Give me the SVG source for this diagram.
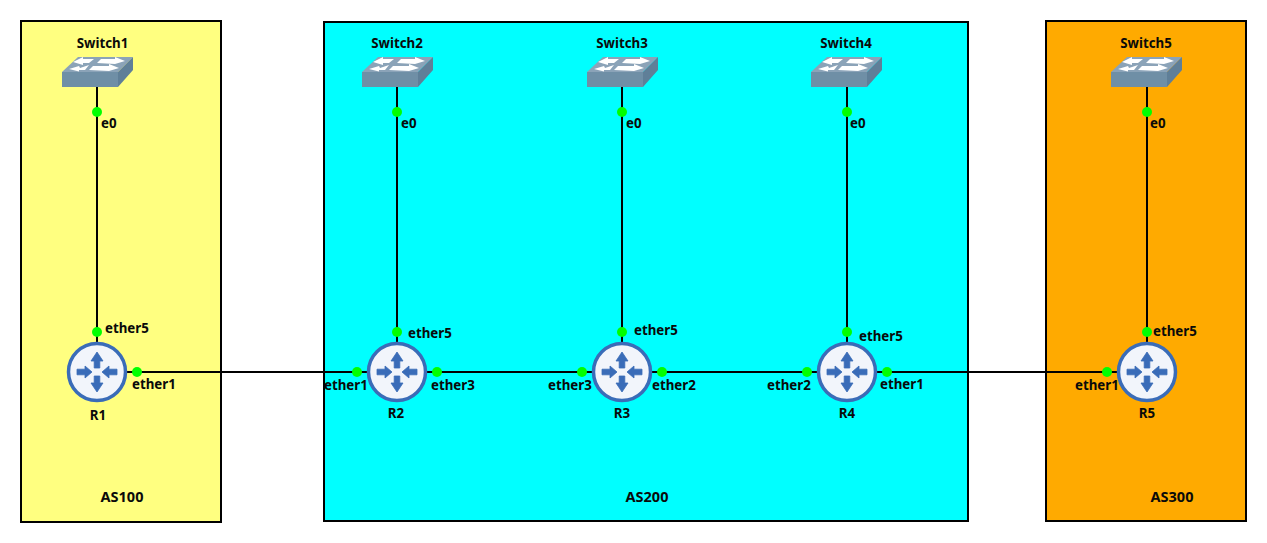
<svg xmlns="http://www.w3.org/2000/svg" xmlns:xlink="http://www.w3.org/1999/xlink" width="1267" height="543" viewBox="0 0 1267 543">
<style>
text{font-family:"Noto Sans","Liberation Sans",sans-serif;font-weight:700;font-size:13.300px;fill:#0a0a0a}
.as{font-size:14.500px}
.area{stroke:#000;stroke-width:2}
.link{stroke:#000;stroke-width:2;fill:none}
.dot{fill:#00ff00}
.arrow{fill:#3a6cb8;stroke:#3a6cb8;stroke-width:0.800;stroke-linejoin:round}
</style>
<defs>
<g id="switch">
<polygon points="-35,-12 -19,-27 36,-27 21,-12" fill="#8ba3b8"/>
<polygon points="-35,-12 21,-12 21,3 -35,3" fill="#6f8fa6"/>
<polygon points="21,-12 36,-27 36,-14 21,3" fill="#5f7f98"/>
<polygon points="-14,-25 -3,-25 -8,-21 -14,-21 -14,-19 -24,-22 -14,-27" fill="#fff"/>
<polygon points="4,-25 18,-25 18,-27 28,-23 18,-20 0,-21" fill="#fff"/>
<polygon points="-17,-16 -8,-19 -12,-14 -18,-14 -18,-12.500 -28,-15 -18,-18" fill="#fff"/>
<polygon points="-4,-18 12,-18 12,-20 22,-16 12,-13 -8,-14" fill="#fff"/>
</g>
<g id="router">
<circle r="28.500" fill="#f2f5fb" stroke="#3a6cb8" stroke-width="3.500"/>
<polygon class="arrow" points="0,-20 6,-11 2.800,-11 2.800,-4 -2.800,-4 -2.800,-11 -6,-11"/>
<polygon class="arrow" points="0,20 6,11 2.800,11 2.800,4 -2.800,4 -2.800,11 -6,11"/>
<polygon class="arrow" points="-5,0 -12,-6 -12,-2.800 -20,-2.800 -20,2.800 -12,2.800 -12,6"/>
<polygon class="arrow" points="5,0 12,-6 12,-2.800 20,-2.800 20,2.800 12,2.800 12,6"/>
</g>
</defs>
<g id="areas">
<g id="AS100"><rect class="area" x="21" y="21" width="200" height="501" fill="#ffff80"/><text class="as" x="122" y="502" text-anchor="middle">AS100</text></g>
<g id="AS200"><rect class="area" x="324" y="22" width="644" height="499" fill="#00ffff"/><text class="as" x="647" y="502" text-anchor="middle">AS200</text></g>
<g id="AS300"><rect class="area" x="1046" y="21" width="200" height="500" fill="#ffaa00"/><text class="as" x="1172" y="502" text-anchor="middle">AS300</text></g>
</g>
<g id="connectors">
<path class="link" d="M97 85V372M97 372H397M397 85V372M397 372H622M622 85V372M622 372H847M847 85V372M847 372H1147M1147 85V372"/>
</g>
<g id="Switch1"><use xlink:href="#switch" href="#switch" x="97" y="84"/><text x="102.500" y="48" text-anchor="middle">Switch1</text></g>
<g id="Switch2"><use xlink:href="#switch" href="#switch" x="397" y="84"/><text x="397" y="48" text-anchor="middle">Switch2</text></g>
<g id="Switch3"><use xlink:href="#switch" href="#switch" x="622" y="84"/><text x="622" y="48" text-anchor="middle">Switch3</text></g>
<g id="Switch4"><use xlink:href="#switch" href="#switch" x="846" y="84"/><text x="846" y="48" text-anchor="middle">Switch4</text></g>
<g id="Switch5"><use xlink:href="#switch" href="#switch" x="1146" y="84"/><text x="1146" y="48" text-anchor="middle">Switch5</text></g>
<g id="R1"><use xlink:href="#router" href="#router" x="97" y="372"/><text x="98" y="420" text-anchor="middle">R1</text></g>
<g id="R2"><use xlink:href="#router" href="#router" x="397" y="372"/><text x="396" y="418" text-anchor="middle">R2</text></g>
<g id="R3"><use xlink:href="#router" href="#router" x="622" y="372"/><text x="622" y="418" text-anchor="middle">R3</text></g>
<g id="R4"><use xlink:href="#router" href="#router" x="847" y="372"/><text x="847" y="418" text-anchor="middle">R4</text></g>
<g id="R5"><use xlink:href="#router" href="#router" x="1147" y="372"/><text x="1147" y="418" text-anchor="middle">R5</text></g>
<g id="ports">
<circle class="dot" cx="97" cy="112" r="5"/><circle class="dot" cx="397" cy="112" r="5"/><circle class="dot" cx="622" cy="112" r="5"/><circle class="dot" cx="847" cy="112" r="5"/><circle class="dot" cx="1147" cy="112" r="5"/>
<circle class="dot" cx="97" cy="332" r="5"/><circle class="dot" cx="397" cy="332" r="5"/><circle class="dot" cx="622" cy="332" r="5"/><circle class="dot" cx="847" cy="332" r="5"/><circle class="dot" cx="1147" cy="332" r="5"/>
<circle class="dot" cx="137" cy="372" r="5"/><circle class="dot" cx="357" cy="372" r="5"/><circle class="dot" cx="437" cy="372" r="5"/><circle class="dot" cx="582" cy="372" r="5"/><circle class="dot" cx="662" cy="372" r="5"/><circle class="dot" cx="807" cy="372" r="5"/><circle class="dot" cx="887" cy="372" r="5"/><circle class="dot" cx="1107" cy="372" r="5"/>
<text x="101" y="128">e0</text><text x="401" y="128">e0</text><text x="626" y="128">e0</text><text x="850" y="128">e0</text><text x="1150" y="128">e0</text>
<text x="105" y="333">ether5</text><text x="408" y="338">ether5</text><text x="634" y="335">ether5</text><text x="859" y="341">ether5</text><text x="1153" y="336">ether5</text>
<text x="132" y="389">ether1</text><text x="324" y="390">ether1</text><text x="431" y="390">ether3</text><text x="548" y="390">ether3</text><text x="652" y="390">ether2</text><text x="767" y="390">ether2</text><text x="880" y="389">ether1</text><text x="1075" y="390">ether1</text>
</g>
</svg>
